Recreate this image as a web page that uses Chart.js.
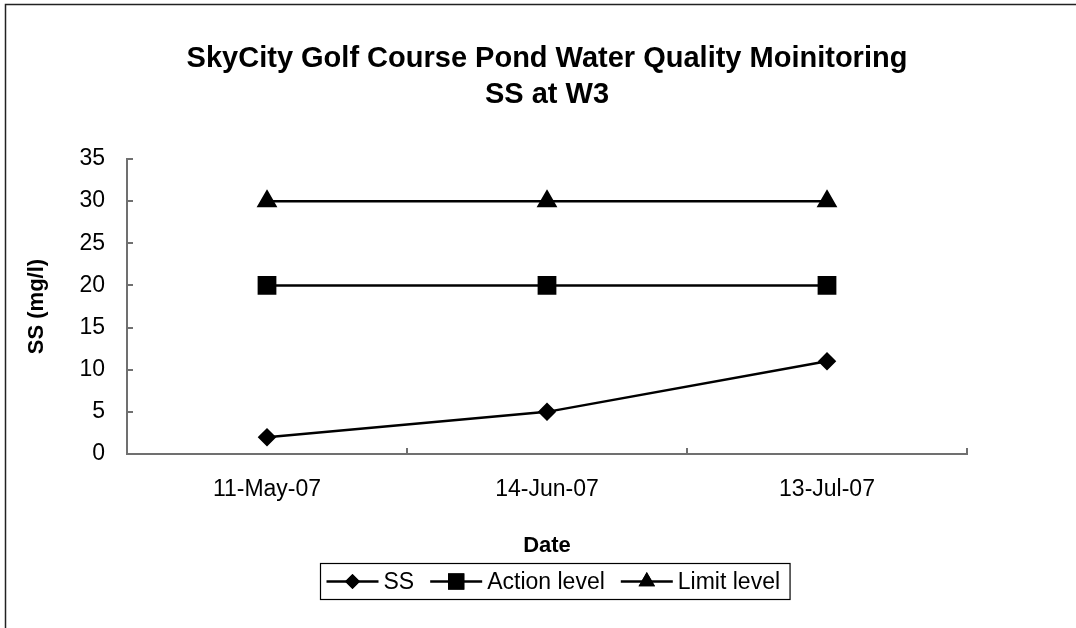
<!DOCTYPE html>
<html>
<head>
<meta charset="utf-8">
<title>SS at W3</title>
<script src="https://cdn.jsdelivr.net/npm/chart.js"></script>
<style>
  html, body { margin: 0; padding: 0; background: #fff; }
  canvas { display: block; }
</style>
</head>
<body>
<canvas id="myChart" width="1076" height="628"></canvas>
<script>
const ctx = document.getElementById('myChart').getContext('2d');

// datos
const fechas = ["11-May-07", "14-Jun-07", "13-Jul-07"];
const valoresSS = [2, 5, 11];
const nivelAccion = [20, 20, 20];
const nivelLimite = [30, 30, 30];
const tituloLineas = ["SkyCity Golf Course Pond Water Quality Moinitoring", "SS at W3"];

const FUENTE = "'Liberation Sans', Arial, Helvetica, sans-serif";
const GRIS = '#707070';

Chart.defaults.font.family = FUENTE;
Chart.defaults.color = '#000';

// marco exterior (fondo blanco + borde)
const marco = {
    id: 'marco',
    beforeDraw(chart) {
        const c = chart.ctx;
        c.save();
        c.fillStyle = '#fff';
        c.fillRect(0, 0, chart.width, chart.height);
        c.strokeStyle = '#222';
        c.lineWidth = 1.5;
        c.strokeRect(5.5, 4.5, chart.width + 50, chart.height + 50);
        c.restore();
    }
};

// leyenda estilo Excel: linea con marcador en medio, dentro de una caja
const leyenda = {
    id: 'leyenda',
    afterDraw(chart) {
        const c = chart.ctx;
        const fontSize = 23;
        const lineLen = 52, gapText = 5, gapItem = 16, padL = 6, padR = 10;
        const top = 563, alto = 36, centro = 555;
        c.save();
        c.font = fontSize + 'px ' + FUENTE;
        let ancho = padL + padR;
        chart.data.datasets.forEach((ds, i) => {
            ancho += lineLen + gapText + c.measureText(ds.label).width;
            if (i < chart.data.datasets.length - 1) ancho += gapItem;
        });
        const left = Math.round(centro - ancho / 2) + 0.5;
        c.strokeStyle = '#000';
        c.lineWidth = 1.2;
        c.strokeRect(left, top + 0.5, ancho, alto);

        let x = left + padL;
        const y = top + alto / 2 + 0.5;
        chart.data.datasets.forEach((ds) => {
            c.strokeStyle = ds.borderColor;
            c.lineWidth = ds.borderWidth;
            c.beginPath();
            c.moveTo(x, y);
            c.lineTo(x + lineLen, y);
            c.stroke();
            Chart.helpers.drawPoint(c, {
                pointStyle: ds.pointStyle,
                radius: ds.pointRadius,
                borderWidth: 0,
                rotation: 0
            }, x + lineLen / 2, y);
            c.fillStyle = '#000';
            c.fill();
            x += lineLen + gapText;
            c.fillStyle = '#000';
            c.textBaseline = 'middle';
            c.textAlign = 'left';
            c.fillText(ds.label, x, y + 1);
            x += c.measureText(ds.label).width + gapItem;
        });
        c.restore();
    }
};

const myChart = new Chart(ctx, {
    type: 'line',
    data: {
        labels: fechas,
        datasets: [
            {
                label: 'SS',
                data: valoresSS,
                borderColor: '#000',
                backgroundColor: '#000',
                borderWidth: 2.5,
                pointStyle: 'rectRot',
                pointRadius: 7.5,
                pointHoverRadius: 7.5
            },
            {
                label: 'Action level',
                data: nivelAccion,
                borderColor: '#000',
                backgroundColor: '#000',
                borderWidth: 2.5,
                pointStyle: 'rect',
                pointRadius: 11.5,
                pointHoverRadius: 11.5
            },
            {
                label: 'Limit level',
                data: nivelLimite,
                borderColor: '#000',
                backgroundColor: '#000',
                borderWidth: 2.5,
                pointStyle: 'triangle',
                pointRadius: 9.5,
                pointHoverRadius: 9.5
            }
        ]
    },
    options: {
        responsive: false,
        animation: false,
        layout: { padding: { left: 0, right: 109, top: 0, bottom: 0 } },
        elements: { line: { tension: 0 }, point: { borderWidth: 0 } },
        plugins: {
            legend: { display: false },
            tooltip: { enabled: false },
            title: {
                display: true,
                text: tituloLineas,
                fullSize: false,
                color: '#000',
                font: { size: 29, weight: 'bold', lineHeight: 36 / 29 },
                padding: { top: 41, bottom: 46 }
            }
        },
        scales: {
            x: {
                offset: true,
                grid: {
                    offset: true,
                    drawOnChartArea: false,
                    drawTicks: true,
                    tickLength: -6,
                    color: GRIS,
                    lineWidth: 2
                },
                border: { color: GRIS, width: 2 },
                ticks: { font: { size: 23 }, color: '#000', padding: 28, maxRotation: 0, autoSkip: false },
                title: {
                    display: true,
                    text: 'Date',
                    color: '#000',
                    font: { size: 22, weight: 'bold' },
                    padding: { top: 0, bottom: 69 }
                },
                afterFit(scale) { scale.height = 174; }
            },
            y: {
                min: 0,
                max: 35,
                grid: {
                    drawOnChartArea: false,
                    drawTicks: true,
                    tickLength: -6,
                    color: GRIS,
                    lineWidth: 2
                },
                border: { color: GRIS, width: 2 },
                ticks: { stepSize: 5, font: { size: 23 }, color: '#000', padding: 28 },
                title: {
                    display: true,
                    text: 'SS (mg/l)',
                    color: '#000',
                    font: { size: 22, weight: 'bold' },
                    padding: { top: 24, bottom: 0 }
                },
                afterFit(scale) { scale.width = 127; }
            }
        }
    },
    plugins: [marco, leyenda]
});
</script>
</body>
</html>
